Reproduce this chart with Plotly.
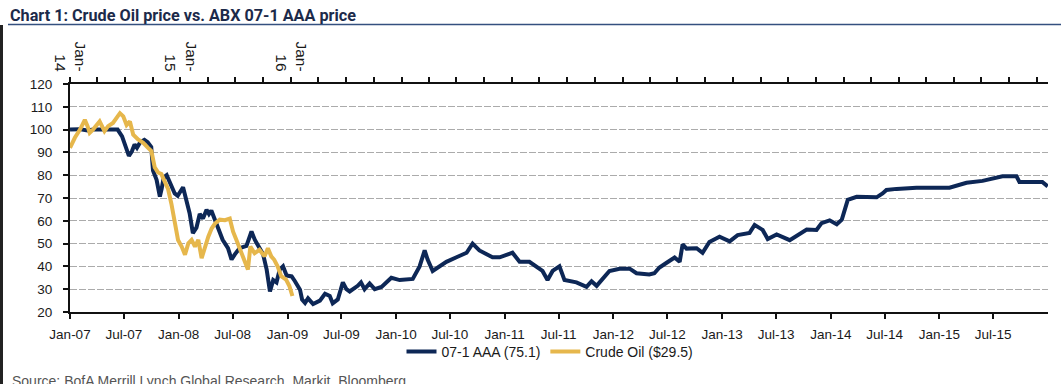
import plotly.graph_objects as go
from datetime import date, timedelta

# ---------------- data ----------------
abx_dates = [
    "2007-01-01", "2007-02-01", "2007-03-01", "2007-03-20", "2007-05-01", "2007-06-10",
    "2007-06-25", "2007-07-08", "2007-07-18", "2007-07-28", "2007-08-06", "2007-08-14",
    "2007-08-25", "2007-09-08", "2007-09-19", "2007-10-01", "2007-10-07", "2007-10-19",
    "2007-10-25", "2007-10-30", "2007-11-05", "2007-11-12", "2007-11-22", "2007-12-01",
    "2007-12-08", "2007-12-19", "2007-12-29", "2008-01-08", "2008-01-16", "2008-01-27",
    "2008-02-07", "2008-02-18", "2008-03-01", "2008-03-12", "2008-03-23", "2008-04-04",
    "2008-04-12", "2008-04-20", "2008-05-01", "2008-05-18", "2008-05-28", "2008-06-15",
    "2008-06-27", "2008-07-08", "2008-07-24", "2008-08-16", "2008-09-02", "2008-09-13",
    "2008-09-24", "2008-10-11", "2008-10-23", "2008-11-03", "2008-11-14", "2008-11-25",
    "2008-12-06", "2008-12-17", "2008-12-29", "2009-01-15", "2009-01-26", "2009-02-12",
    "2009-02-19", "2009-03-01", "2009-03-11", "2009-03-28", "2009-04-20", "2009-05-07",
    "2009-05-23", "2009-06-02", "2009-06-19", "2009-07-06", "2009-07-18", "2009-07-29",
    "2009-08-25", "2009-09-05", "2009-09-17", "2009-10-04", "2009-10-21", "2009-11-13",
    "2009-12-16", "2010-01-13", "2010-02-26", "2010-03-21", "2010-04-07", "2010-04-17",
    "2010-05-04", "2010-05-27", "2010-06-19", "2010-07-23", "2010-08-26", "2010-09-15",
    "2010-10-08", "2010-11-21", "2010-12-15", "2011-01-27", "2011-02-20", "2011-03-25",
    "2011-05-08", "2011-05-25", "2011-06-11", "2011-07-04", "2011-07-21", "2011-08-30",
    "2011-10-03", "2011-10-20", "2011-11-06", "2011-11-16", "2011-12-19", "2012-01-22",
    "2012-02-25", "2012-03-19", "2012-05-01", "2012-05-18", "2012-06-04", "2012-06-27",
    "2012-07-25", "2012-08-11", "2012-08-21", "2012-09-03", "2012-10-07", "2012-10-27",
    "2012-11-19", "2012-12-23", "2013-01-26", "2013-02-22", "2013-04-03", "2013-04-20",
    "2013-05-17", "2013-06-03", "2013-07-03", "2013-08-16", "2013-09-08", "2013-10-12",
    "2013-11-14", "2013-12-01", "2013-12-28", "2014-01-21", "2014-02-07", "2014-02-27",
    "2014-03-29", "2014-06-04", "2014-06-24", "2014-07-07", "2014-08-10", "2014-10-16",
    "2015-02-04", "2015-02-27", "2015-04-02", "2015-05-26", "2015-06-28", "2015-08-01",
    "2015-09-17", "2015-09-27", "2015-12-13", "2015-12-31",
]
abx_values = [
    100, 100.2, 99.6, 100, 100, 100,
    97, 92, 88.5, 90.5, 93.5, 92,
    94.5, 95.5, 94.5, 92.4, 82, 78,
    74, 70.6, 74, 79, 80, 77,
    75.7, 72, 71, 73, 74.7, 69,
    63.3, 54.6, 57, 63, 61, 64.8,
    63, 64.5, 61, 54.6, 51.7, 48,
    43, 45.3, 48, 49, 55.3, 51.7,
    49, 45.3, 38.6, 29, 34, 33,
    38.6, 40, 36, 35.6, 33.5, 29.8,
    25.5, 24, 26, 23.5, 25, 28,
    27, 23.8, 25.5, 33, 30, 29,
    31.5, 33, 30, 32.5, 30, 31,
    35, 34, 34.5, 40, 47, 43,
    38, 40, 42, 44, 46, 50,
    47, 44, 44, 46, 42, 42,
    38, 34, 38, 40, 34, 33,
    31, 33.5, 31.5, 33, 38, 39,
    39, 37, 36.5, 37, 39.5, 41.5,
    43.9, 42, 49.7, 47.8, 48, 46,
    50.7, 53, 51, 53.7, 54.7, 58.2,
    56, 52, 54, 51.5, 53.5, 56.2,
    56, 59, 60.2, 58.5, 60.5, 69.2,
    70.5, 70.3, 72, 73.5, 74, 74.5,
    74.5, 75.5, 76.7, 77.5, 78.5, 79.5,
    79.5, 77, 77, 75.1,
]

oil_dates = [
    "2014-01-01", "2014-01-17", "2014-02-03", "2014-02-19", "2014-02-28", "2014-03-07",
    "2014-03-18", "2014-04-09", "2014-04-25", "2014-05-07", "2014-05-23", "2014-06-04",
    "2014-06-15", "2014-06-26", "2014-07-07", "2014-07-18", "2014-07-29", "2014-08-14",
    "2014-08-31", "2014-09-16", "2014-09-27", "2014-10-08", "2014-10-19", "2014-10-30",
    "2014-11-10", "2014-11-21", "2014-12-02", "2014-12-13", "2014-12-24", "2015-01-05",
    "2015-01-16", "2015-01-27", "2015-02-07", "2015-02-18", "2015-03-01", "2015-03-12",
    "2015-03-23", "2015-04-03", "2015-04-14", "2015-04-25", "2015-05-11", "2015-05-28",
    "2015-06-13", "2015-06-24", "2015-07-05", "2015-07-22", "2015-08-07", "2015-08-12",
    "2015-08-20", "2015-09-03", "2015-09-19", "2015-10-06", "2015-10-17", "2015-10-28",
    "2015-11-07", "2015-11-18", "2015-11-30", "2015-12-16", "2015-12-27", "2016-01-06",
]
oil_values = [
    92, 96.4, 100, 104.3, 101.5, 98.6,
    100, 103.6, 99.3, 101.5, 102.9, 105,
    107.2, 105.8, 102, 103.6, 97.8, 95.7,
    94.2, 92, 90.6, 83.4, 81.2, 80.5,
    77.6, 74, 67.5, 58.8, 51.6, 48.7,
    45.1, 50.1, 51.6, 48.7, 51.6, 43.6,
    48.7, 53, 56.6, 58.8, 60.5, 60.3,
    61, 55.2, 51.6, 45.8, 41.5, 38.6,
    48.7, 45.8, 47.3, 44.4, 48, 44.4,
    42.9, 40, 35.7, 34.2, 31.4, 27,
]

bottom_tick_dates = [
    "2007-01-01", "2007-07-01", "2008-01-01", "2008-07-01", "2009-01-01", "2009-07-01",
    "2010-01-01", "2010-07-01", "2011-01-01", "2011-07-01", "2012-01-01", "2012-07-01",
    "2013-01-01", "2013-07-01", "2014-01-01", "2014-07-01", "2015-01-01", "2015-07-01",
]
bottom_tick_labels = [
    "Jan-07", "Jul-07", "Jan-08", "Jul-08", "Jan-09", "Jul-09",
    "Jan-10", "Jul-10", "Jan-11", "Jul-11", "Jan-12", "Jul-12",
    "Jan-13", "Jul-13", "Jan-14", "Jul-14", "Jan-15", "Jul-15",
]
top_label_dates = ["2014-01-01", "2015-01-01", "2016-01-01"]
top_tick_labels = ["Jan-<br>14", "Jan-<br>15", "Jan-<br>16"]

y_ticks = [20, 30, 40, 50, 60, 70, 80, 90, 100, 110, 120]

abx_name = "07-1 AAA (75.1)"
oil_name = "Crude Oil ($29.5)"
title_text = "Chart 1: Crude Oil price vs. ABX 07-1 AAA price"
source_text = "Source: BofA Merrill Lynch Global Research, Markit, Bloomberg"

# ---------------- layout geometry ----------------
W, H = 1061, 384
L, R, T, B = 70, 1048, 84, 312


def pxx(x):
    return (x - L) / (R - L)


def pxy(y):
    return (B - y) / (B - T)


NAVY = "#0d2756"
GOLD = "#e6b74c"
TICK_FONT = dict(family="Liberation Sans, Arial, sans-serif", size=13.5, color="#1a1a1a")
TOP_FONT = dict(family="Liberation Sans, Arial, sans-serif", size=15.5, color="#1a1a1a")

# top (secondary) date axis: Jan-14 at the left edge, ~110.5 px per year
top_start = date(2014, 1, 1)
top_end = top_start + timedelta(days=(R - L) / 110.5 * 365.25)
top_tickvals, top_ticktext = [], []
yy, mm = 2014, 1
while date(yy, mm, 1) < top_end:
    d = date(yy, mm, 1).isoformat()
    top_tickvals.append(d)
    top_ticktext.append(top_tick_labels[top_label_dates.index(d)] if d in top_label_dates else "")
    mm += 3
    if mm > 12:
        mm -= 12
        yy += 1

fig = go.Figure()
fig.add_trace(go.Scatter(x=abx_dates, y=abx_values, name=abx_name, mode="lines",
                         line=dict(color=NAVY, width=4), xaxis="x", yaxis="y"))
fig.add_trace(go.Scatter(x=oil_dates, y=oil_values, name=oil_name, mode="lines",
                         line=dict(color=GOLD, width=4), xaxis="x2", yaxis="y"))

fig.update_layout(
    width=W, height=H,
    margin=dict(l=L, r=W - R, t=T, b=H - B, autoexpand=False),
    paper_bgcolor="white", plot_bgcolor="white",
    showlegend=True,
    legend=dict(orientation="h", x=pxx(550), xanchor="center", y=pxy(352), yanchor="middle",
                font=dict(family="Liberation Sans, Arial, sans-serif", size=14, color="#1a1a1a"),
                bgcolor="rgba(0,0,0,0)", itemwidth=30, tracegroupgap=0),
    xaxis=dict(type="date", range=["2007-01-01", "2016-01-01"],
               tickvals=bottom_tick_dates, ticktext=bottom_tick_labels, tickangle=0,
               showgrid=False, zeroline=False,
               showline=True, linecolor="#111", linewidth=2,
               ticks="outside", ticklen=5, tickwidth=1.5, tickcolor="#111",
               ticklabelstandoff=4, tickfont=TICK_FONT),
    xaxis2=dict(type="date", overlaying="x", side="top", anchor="y",
                range=[top_start.isoformat(), top_end.isoformat()],
                tickvals=top_tickvals, ticktext=top_ticktext, tickangle=90,
                showgrid=False, zeroline=False,
                showline=True, linecolor="#111", linewidth=2,
                ticks="outside", ticklen=5, tickwidth=1.5, tickcolor="#111",
                tickfont=TOP_FONT),
    yaxis=dict(range=[20, 120], tickvals=y_ticks, ticktext=[str(v) for v in y_ticks],
               showgrid=True, gridcolor="#ababab", gridwidth=1, griddash="7px,2px",
               zeroline=False, showline=True, linecolor="#111", linewidth=2,
               ticks="outside", ticklen=5, tickwidth=1.5, tickcolor="#111",
               ticklabelstandoff=8, tickfont=TICK_FONT),
)

fig.add_annotation(xref="paper", yref="paper", x=pxx(8), y=pxy(15), xanchor="left", yanchor="middle",
                   text="<b>" + title_text + "</b>", showarrow=False,
                   font=dict(family="Roboto, Liberation Sans, Arial, sans-serif",
                             size=16.2, color="#1c2a4a"))
fig.add_annotation(xref="paper", yref="paper", x=pxx(10), y=pxy(371), xanchor="left", yanchor="top",
                   text=source_text, showarrow=False,
                   font=dict(family="Liberation Sans, Arial, sans-serif", size=14, color="#555555"))

# title underline and left frame line
fig.add_shape(type="line", xref="paper", yref="paper", x0=pxx(8), x1=pxx(W), y0=pxy(24.5), y1=pxy(24.5),
              line=dict(color="#34507f", width=1.5))
fig.add_shape(type="line", xref="paper", yref="paper", x0=pxx(1.5), x1=pxx(1.5), y0=pxy(25), y1=pxy(H),
              line=dict(color="#222222", width=3))

fig.write_html("out.html", config={"displayModeBar": False},
               post_script="document.body.style.margin='0';document.body.style.overflow='hidden';")
